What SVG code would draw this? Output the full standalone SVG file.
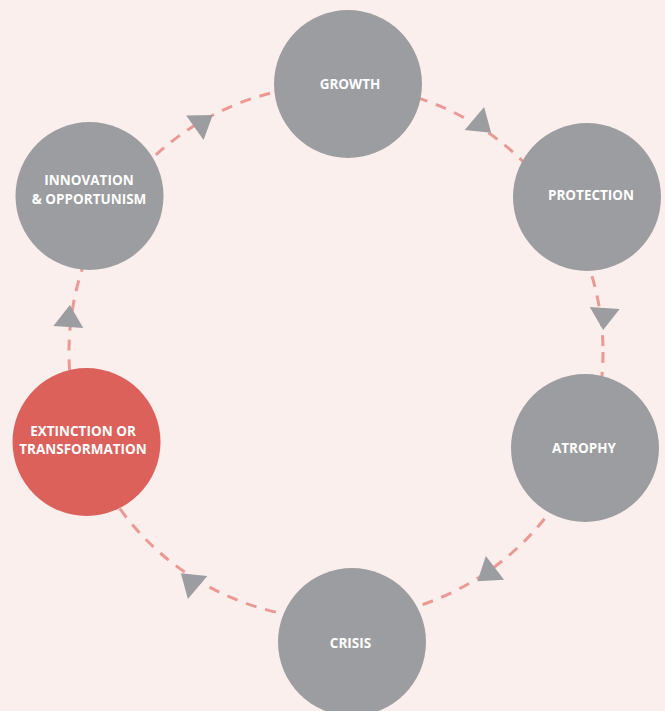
<svg xmlns="http://www.w3.org/2000/svg" width="665" height="711" viewBox="0 0 665 711">
<style>
.ring{fill:none;stroke:#ec9994;stroke-width:3;stroke-dasharray:11 9}
.node{fill:#9c9da1}
.hot{fill:#dc615b}
.lbl{font-family:"Open Sans","Liberation Sans",sans-serif;font-weight:700;font-size:13.5px;fill:#ffffff;text-anchor:middle}
.arr{fill:#9c9da1}
</style>
<defs>
<path id="tri" d="M12,0 L-10,-15 L-10,15 Z"/>
</defs>
<rect x="0" y="0" width="665" height="711" fill="#fbefed"/>
<g id="connectors">
<circle class="ring" cx="336" cy="352" r="267"/>
<use href="#tri" class="arr" transform="translate(203,122) rotate(-35.5)"/>
<use href="#tri" class="arr" transform="translate(482,125) rotate(40.5)"/>
<use href="#tri" class="arr" transform="translate(604,318) rotate(94)"/>
<use href="#tri" class="arr" transform="translate(487,574) rotate(142.6)"/>
<use href="#tri" class="arr" transform="translate(190,581) rotate(220.5)"/>
<use href="#tri" class="arr" transform="translate(69,317) rotate(-86)"/>
</g>
<g id="growth">
<circle class="node" cx="348" cy="84" r="74"/>
<text class="lbl" x="350" y="89">GROWTH</text>
</g>
<g id="protection">
<circle class="node" cx="587" cy="197" r="74"/>
<text class="lbl" x="591" y="200">PROTECTION</text>
</g>
<g id="atrophy">
<circle class="node" cx="585" cy="448" r="74"/>
<text class="lbl" x="584" y="453">ATROPHY</text>
</g>
<g id="crisis">
<circle class="node" cx="352" cy="642" r="74"/>
<text class="lbl" x="350.5" y="648">CRISIS</text>
</g>
<g id="extinction">
<circle class="hot" cx="86.5" cy="442" r="74"/>
<text class="lbl" x="83" y="435.5">EXTINCTION OR</text>
<text class="lbl" x="83" y="454">TRANSFORMATION</text>
</g>
<g id="innovation">
<circle class="node" cx="89.5" cy="196" r="74"/>
<text class="lbl" x="89" y="185">INNOVATION</text>
<text class="lbl" x="89" y="203.5">&amp; OPPORTUNISM</text>
</g>
</svg>
